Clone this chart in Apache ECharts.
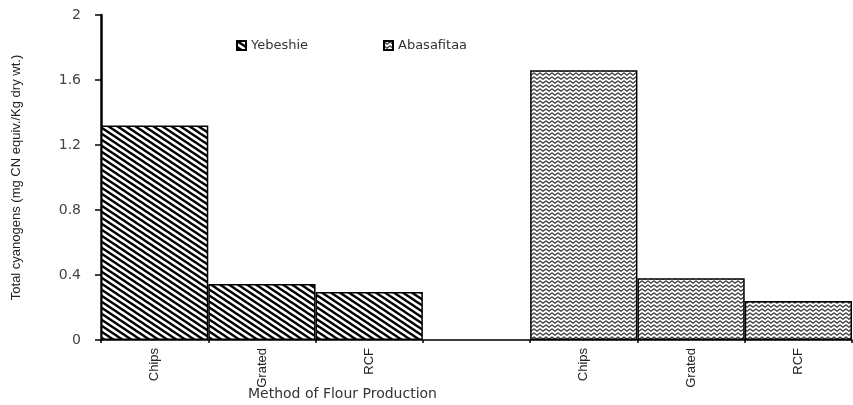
<!DOCTYPE html>
<html>
<head>
<meta charset="utf-8">
<script src="https://cdn.jsdelivr.net/npm/echarts@6/dist/echarts.min.js"></script>
<style>
html,body{margin:0;padding:0;background:#fff;overflow:hidden;}
#chart{width:853px;height:405px;}
</style>
</head>
<body>
<div id="chart"></div>
<script>
// ---- data ----
var methods = ['Chips', 'Grated', 'RCF'];
var yebeshie = [1.32, 0.345, 0.295];
var abasafitaa = [1.66, 0.38, 0.24];
var xTitle = 'Method of Flour Production';

// categories: Yebeshie group, empty spacer, Abasafitaa group
var categories = methods.concat(['']).concat(methods);
var yebData = yebeshie.concat([null, null, null, null]);
var abaData = [null, null, null, null].concat(abasafitaa);

function hatchPattern() {
  var c = document.createElement('canvas');
  var w = 9, h = 6;
  c.width = w; c.height = h;
  var g = c.getContext('2d');
  g.fillStyle = '#fff';
  g.fillRect(0, 0, w, h);
  g.strokeStyle = '#000';
  g.lineWidth = 2.3;
  [-w, 0, w].forEach(function (o) {
    g.beginPath();
    g.moveTo(o - w, -h);
    g.lineTo(o + 2 * w, 2 * h);
    g.stroke();
  });
  return c;
}
function zigzagPattern() {
  var c = document.createElement('canvas');
  var w = 6, h = 4;
  c.width = w; c.height = h;
  var g = c.getContext('2d');
  g.fillStyle = '#fff';
  g.fillRect(0, 0, w, h);
  g.strokeStyle = '#444';
  g.lineWidth = 1.3;
  [-h, 0, h].forEach(function (o) {
    g.beginPath();
    g.moveTo(0, o + 0.8);
    g.lineTo(w / 2, o + h - 0.8);
    g.lineTo(w, o + 0.8);
    g.stroke();
  });
  return c;
}

var chart = echarts.init(document.getElementById('chart'), null, {renderer: 'canvas'});
var legendText = {fontFamily: 'DejaVu Sans', fontSize: 13, color: '#333'};
chart.setOption({
  backgroundColor: '#fff',
  animation: false,
  graphic: [
    {type: 'text', x: 248, y: 387, silent: true,
     style: {text: xTitle, fontFamily: 'DejaVu Sans', fontSize: 14, fill: '#333', verticalAlign: 'top', align: 'left'}}
  ],
  legend: [
    {data: ['Yebeshie'], left: 236, top: 39, itemWidth: 9, itemHeight: 9, icon: 'rect', itemGap: 4, textStyle: legendText, padding: 0},
    {data: ['Abasafitaa'], left: 383, top: 39, itemWidth: 9, itemHeight: 9, icon: 'rect', itemGap: 4, textStyle: legendText, padding: 0}
  ],
  grid: {left: 101, right: 1, top: 15, bottom: 65, containLabel: false, outerBoundsMode: 'none'},
  xAxis: {
    type: 'category',
    data: categories,
    boundaryGap: true,
    axisLine: {lineStyle: {color: '#000', width: 1.5}},
    axisTick: {show: true, alignWithLabel: false, length: 3, lineStyle: {color: '#000', width: 1.5}},
    axisLabel: {rotate: 90, interval: 0, margin: 8, fontFamily: 'Liberation Sans Narrow, Arial Narrow, Liberation Sans', fontSize: 13, color: '#222'},
    splitLine: {show: false}
  },
  yAxis: {
    type: 'value',
    min: 0, max: 2, interval: 0.4,
    name: 'Total cyanogens (mg CN equiv./Kg dry wt.)',
    nameLocation: 'middle',
    nameGap: 78,
    nameTextStyle: {fontFamily: 'Liberation Sans Narrow, Arial Narrow, Liberation Sans', fontSize: 13, color: '#222'},
    axisLine: {show: true, lineStyle: {color: '#000', width: 2.5}},
    axisTick: {show: true, inside: false, length: 6, lineStyle: {color: '#000', width: 1.5}},
    axisLabel: {margin: 20, fontFamily: 'DejaVu Sans', fontSize: 14, color: '#444',
      formatter: function (v) { return String(Math.round(v * 10) / 10); }},
    splitLine: {show: false}
  },
  series: [
    {
      name: 'Yebeshie', type: 'bar', data: yebData,
      barWidth: '100%', barGap: '-100%',
      itemStyle: {color: {image: hatchPattern(), repeat: 'repeat'}, borderColor: '#000', borderWidth: 1.5}
    },
    {
      name: 'Abasafitaa', type: 'bar', data: abaData,
      barWidth: '100%', barGap: '-100%',
      itemStyle: {color: {image: zigzagPattern(), repeat: 'repeat'}, borderColor: '#000', borderWidth: 1.5}
    }
  ]
});
</script>
</body>
</html>
